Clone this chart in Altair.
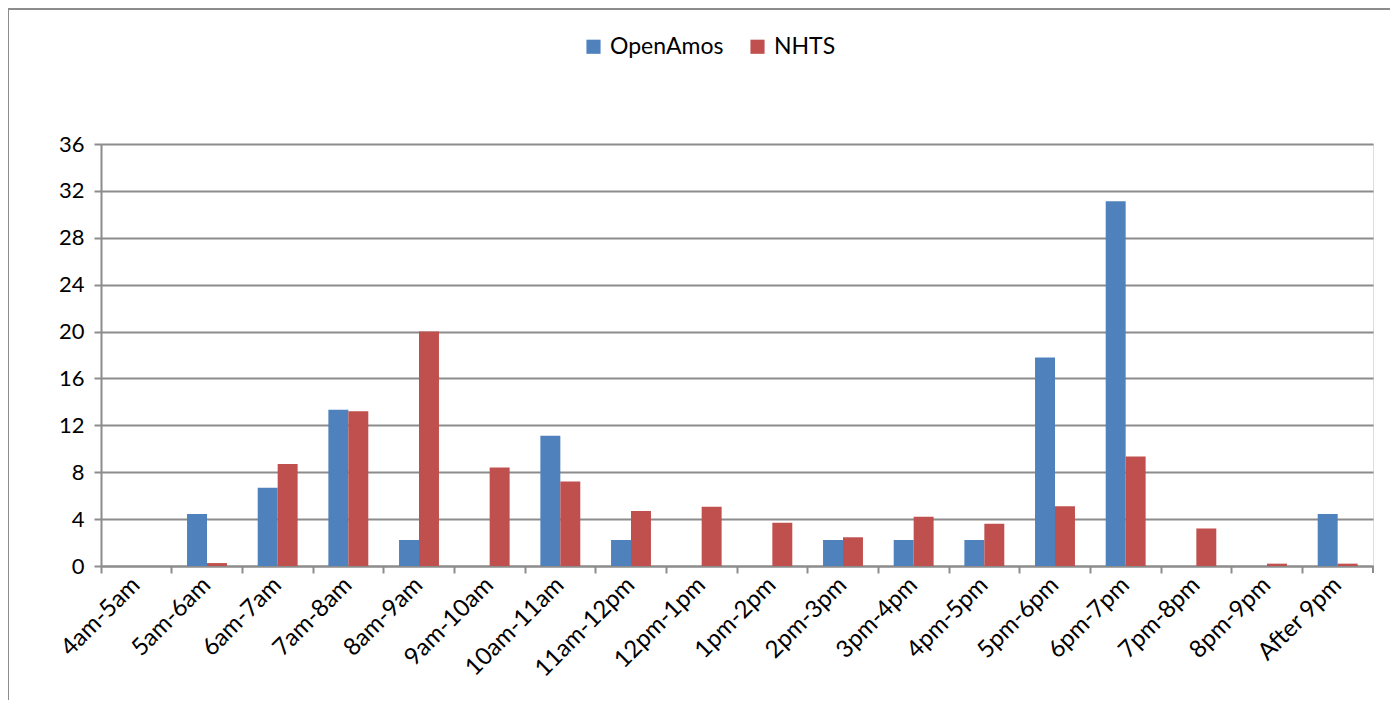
import altair as alt
import pandas as pd

slots = ["4am-5am", "5am-6am", "6am-7am", "7am-8am", "8am-9am", "9am-10am",
         "10am-11am", "11am-12pm", "12pm-1pm", "1pm-2pm", "2pm-3pm", "3pm-4pm",
         "4pm-5pm", "5pm-6pm", "6pm-7pm", "7pm-8pm", "8pm-9pm", "After 9pm"]
openamos = [0, 4.44, 6.67, 13.33, 2.22, 0, 11.11, 2.22, 0, 0, 2.22, 2.22,
            2.22, 17.78, 31.11, 0, 0, 4.44]
nhts = [0, 0.25, 8.7, 13.2, 20.0, 8.4, 7.2, 4.7, 5.05, 3.7, 2.45, 4.2,
        3.6, 5.1, 9.35, 3.2, 0.2, 0.2]
series = ["OpenAmos", "NHTS"]
colors = ["#4F81BD", "#C0504D"]
y_ticks = [0, 4, 8, 12, 16, 20, 24, 28, 32, 36]

rows = []
for s, o, n in zip(slots, openamos, nhts):
    rows.append({"slot": s, "series": "OpenAmos", "value": o})
    rows.append({"slot": s, "series": "NHTS", "value": n})
df = pd.DataFrame(rows)

W, H = 1272, 422
FONT = "Lato"
GRAY = "#8c8c8c"

bars = alt.Chart(df).mark_bar().encode(
    x=alt.X("slot:N", sort=slots,
            scale=alt.Scale(paddingInner=0, paddingOuter=0),
            axis=alt.Axis(title=None, labelAngle=315, labelAlign="right",
                          labelBaseline="middle", bandPosition=0,
                          labelPadding=8,
                          labelFontSize=24, labelColor="#000",
                          tickSize=7, tickColor=GRAY, tickWidth=2,
                          domainColor=GRAY, domainWidth=2, grid=False)),
    xOffset=alt.XOffset("series:N", sort=series,
                        scale=alt.Scale(paddingInner=0, paddingOuter=0.77)),
    y=alt.Y("value:Q", scale=alt.Scale(domain=[0, 36], nice=False),
            axis=alt.Axis(title=None, values=y_ticks, labelFontSize=22,
                          labelColor="#000", labelPadding=10,
                          tickSize=7, tickColor=GRAY, tickWidth=2,
                          domainColor=GRAY, domainWidth=2,
                          grid=True, gridColor=GRAY, gridWidth=2)),
    color=alt.Color("series:N", sort=series,
                    scale=alt.Scale(domain=series, range=colors),
                    legend=alt.Legend(orient="none", direction="horizontal",
                                      legendX=481, legendY=-109, title=None,
                                      symbolType="square", symbolSize=200,
                                      symbolStrokeWidth=0,
                                      labelFontSize=23, labelColor="#000",
                                      columnPadding=22, labelOffset=5)),
)

deco = pd.DataFrame({"a": [0]})
border = alt.Chart(deco).mark_rect(
    fillOpacity=0, stroke=GRAY, strokeWidth=2
).encode(x=alt.value(-93), x2=alt.value(1291), y=alt.value(-135), y2=alt.value(900))

end_tick = alt.Chart(deco).mark_rule(color=GRAY, strokeWidth=2).encode(
    x=alt.value(W), y=alt.value(H), y2=alt.value(H + 7))

chart = alt.layer(border, end_tick, bars).properties(
    width=W, height=H,
    autosize=alt.AutoSizeParams(type="none"),
    padding={"left": 93, "top": 136, "right": 17, "bottom": 134},
).configure_view(stroke=None).configure(font=FONT, background="white")

chart.save("out.html", embed_options={"renderer": "svg", "actions": False})
